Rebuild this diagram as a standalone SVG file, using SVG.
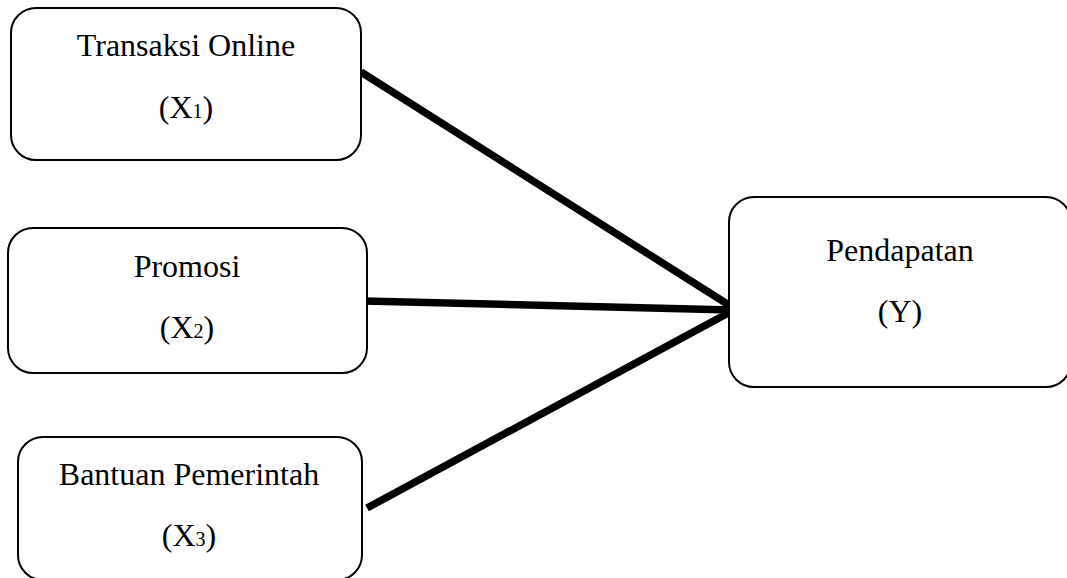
<svg xmlns="http://www.w3.org/2000/svg" width="1067" height="578" viewBox="0 0 1067 578">
<style>
.box{fill:#fff;stroke:#000;stroke-width:2}
.t{font-family:"Liberation Serif","Times New Roman",serif;font-size:32px;fill:#000;text-anchor:middle}
.sub{font-size:20px}
.c{stroke:#000;stroke-width:7.5;fill:none;stroke-linecap:butt}
</style>
<rect width="1067" height="578" fill="#fff"/>
<g id="connectors">
<line class="c" x1="361" y1="72" x2="732" y2="307"/>
<line class="c" x1="364" y1="301" x2="732" y2="310"/>
<line class="c" x1="367" y1="508" x2="732" y2="311"/>
</g>
<g id="node-x1">
<rect class="box" x="11" y="8" width="350" height="152" rx="25"/>
<text class="t" x="186" y="56">Transaksi Online</text>
<text class="t" x="186" y="118">(X<tspan class="sub">1</tspan>)</text>
</g>
<g id="node-x2">
<rect class="box" x="8" y="228" width="359" height="145" rx="25"/>
<text class="t" x="187" y="277">Promosi</text>
<text class="t" x="187" y="338">(X<tspan class="sub">2</tspan>)</text>
</g>
<g id="node-x3">
<rect class="box" x="18" y="437" width="344" height="143" rx="25"/>
<text class="t" x="189" y="485">Bantuan Pemerintah</text>
<text class="t" x="189" y="546">(X<tspan class="sub">3</tspan>)</text>
</g>
<g id="node-y">
<rect class="box" x="729" y="197" width="342" height="190" rx="25"/>
<text class="t" x="900" y="261">Pendapatan</text>
<text class="t" x="900" y="322">(Y)</text>
</g>
</svg>
